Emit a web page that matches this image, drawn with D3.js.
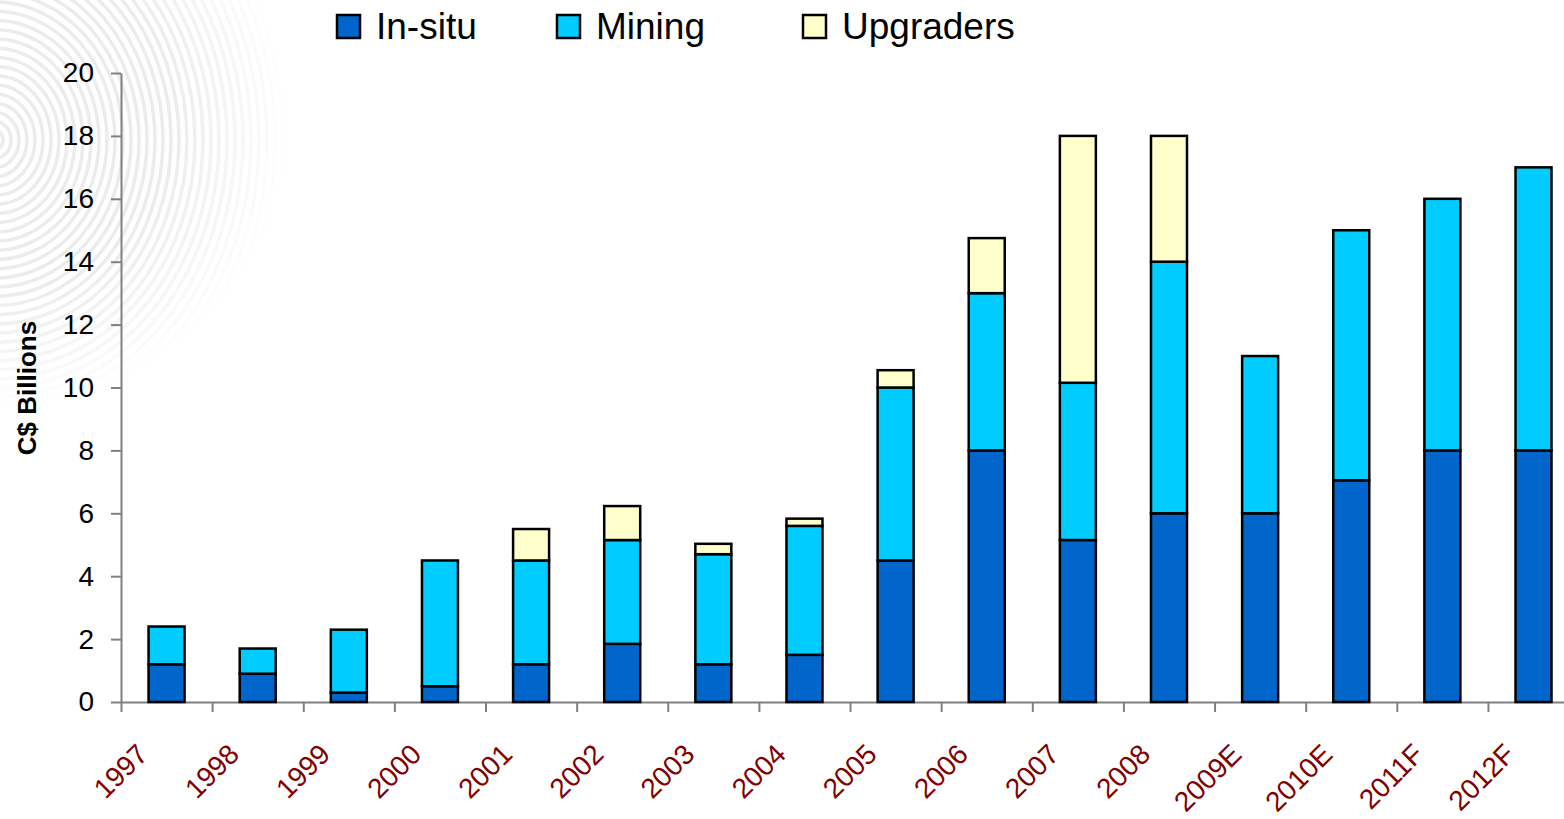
<!DOCTYPE html>
<html>
<head>
<meta charset="utf-8">
<script src="https://cdn.jsdelivr.net/npm/d3@7"></script>
<style>
  body { margin: 0; background: #fff; }
  svg { display: block; font-family: Arial, "Liberation Sans", sans-serif; }
</style>
</head>
<body>
<script>
// categories and series (C$ billions)
const years = ['1997', '1998', '1999', '2000', '2001', '2002', '2003', '2004',
               '2005', '2006', '2007', '2008', '2009E', '2010E', '2011F', '2012F'];
const inSitu    = [1.2, 0.9, 0.3, 0.5, 1.2, 1.85, 1.2, 1.5, 4.5, 8, 5.15, 6, 6, 7.05, 8, 8];
const mining    = [1.2, 0.8, 2.0, 4.0, 3.3, 3.3, 3.5, 4.1, 5.5, 5, 5, 8, 5, 7.95, 8, 9];
const upgraders = [0, 0, 0, 0, 1.0, 1.08, 0.33, 0.23, 0.55, 1.75, 7.85, 4, 0, 0, 0, 0];
const seriesNames = ['In-situ', 'Mining', 'Upgraders'];
const colors = ['#0066cc', '#00ccff', '#ffffcc'];
const yTicks = [0, 2, 4, 6, 8, 10, 12, 14, 16, 18, 20];

const width = 1564;
const height = 819;
const plotLeft = 121;
const step = 91.13;
const plotBottom = 702;
const plotTop = 73;

const svg = d3.select('body')
    .append('svg')
        .attr('width', width)
        .attr('height', height);

// faint fingerprint in the corner
const defs = svg.append('defs');
const grad = defs.append('radialGradient')
    .attr('id', 'fade')
    .attr('gradientUnits', 'userSpaceOnUse')
    .attr('cx', 0).attr('cy', 120).attr('r', 290);
grad.append('stop').attr('offset', '0.6').attr('stop-color', '#fff');
grad.append('stop').attr('offset', '1').attr('stop-color', '#000');
defs.append('mask').attr('id', 'fpmask')
    .append('rect')
        .attr('width', 400).attr('height', 500)
        .attr('fill', 'url(#fade)');
const fp = svg.append('g').attr('mask', 'url(#fpmask)');
d3.range(8, 330, 8).forEach(r => {
    fp.append('ellipse')
        .attr('cx', -5).attr('cy', 140)
        .attr('rx', r).attr('ry', r * 1.15)
        .attr('fill', 'none')
        .attr('stroke', '#ececec')
        .attr('stroke-width', 3.5);
});

// scales
const x = d3.scaleBand()
    .domain(years)
    .range([plotLeft, plotLeft + step * years.length])
    .padding(0);
const xEdge = d3.scaleLinear()
    .domain([0, years.length])
    .range([plotLeft, plotLeft + step * years.length]);
const y = d3.scaleLinear()
    .domain([0, 20])
    .range([plotBottom, plotTop]);

const rows = years.map((yr, i) => ({
    year: yr, 'In-situ': inSitu[i], 'Mining': mining[i], 'Upgraders': upgraders[i]
}));
const stacked = d3.stack().keys(seriesNames)(rows);

// axes
const yAxis = d3.axisLeft(y)
    .tickValues(yTicks)
    .tickSize(10)
    .tickSizeOuter(0)
    .tickPadding(17);
const gy = svg.append('g')
    .attr('transform', `translate(${plotLeft}, 0)`)
    .call(yAxis);
gy.selectAll('text')
    .attr('fill', '#000')
    .style('font-size', '28px');

const xAxis = d3.axisBottom(xEdge)
    .tickValues(d3.range(0, years.length + 1))
    .tickSize(10)
    .tickSizeOuter(0)
    .tickFormat('');
svg.append('g')
    .attr('transform', `translate(0, ${plotBottom})`)
    .call(xAxis);

svg.selectAll('.domain, .tick line')
    .attr('stroke', '#808080')
    .attr('stroke-width', 2);

// x labels, rotated
svg.append('g')
    .selectAll('text')
    .data(years)
    .enter()
    .append('text')
        .attr('transform', d => `translate(${x(d) + x.bandwidth() / 2 - 17}, ${plotBottom + 54}) rotate(-45)`)
        .attr('text-anchor', 'end')
        .attr('fill', '#800000')
        .style('font-size', '28px')
        .text(d => d);

// bars
const barW = 36;
svg.append('g')
    .selectAll('g')
    .data(stacked)
    .enter()
    .append('g')
        .attr('fill', (d, i) => colors[i])
    .selectAll('rect')
    .data(d => d.filter(p => p[1] - p[0] > 0))
    .enter()
    .append('rect')
        .attr('x', d => x(d.data.year) + (x.bandwidth() - barW) / 2)
        .attr('y', d => y(d[1]))
        .attr('width', barW)
        .attr('height', d => y(d[0]) - y(d[1]))
        .attr('stroke', '#000')
        .attr('stroke-width', 2.5);

// y title
svg.append('text')
    .attr('transform', 'translate(36, 388) rotate(-90)')
    .attr('text-anchor', 'middle')
    .style('font-size', '26px')
    .style('font-weight', 'bold')
    .text('C$ Billions');

// legend
const legendX = [337, 557, 803];
const legend = svg.append('g')
    .selectAll('g')
    .data(seriesNames)
    .enter()
    .append('g')
        .attr('transform', (d, i) => `translate(${legendX[i]}, 0)`);
legend.append('rect')
    .attr('x', 0).attr('y', 15)
    .attr('width', 23).attr('height', 23)
    .attr('fill', (d, i) => colors[i])
    .attr('stroke', '#000')
    .attr('stroke-width', 2.5);
legend.append('text')
    .attr('x', 39)
    .attr('y', 39)
    .style('font-size', '37px')
    .text(d => d);
</script>
</body>
</html>
